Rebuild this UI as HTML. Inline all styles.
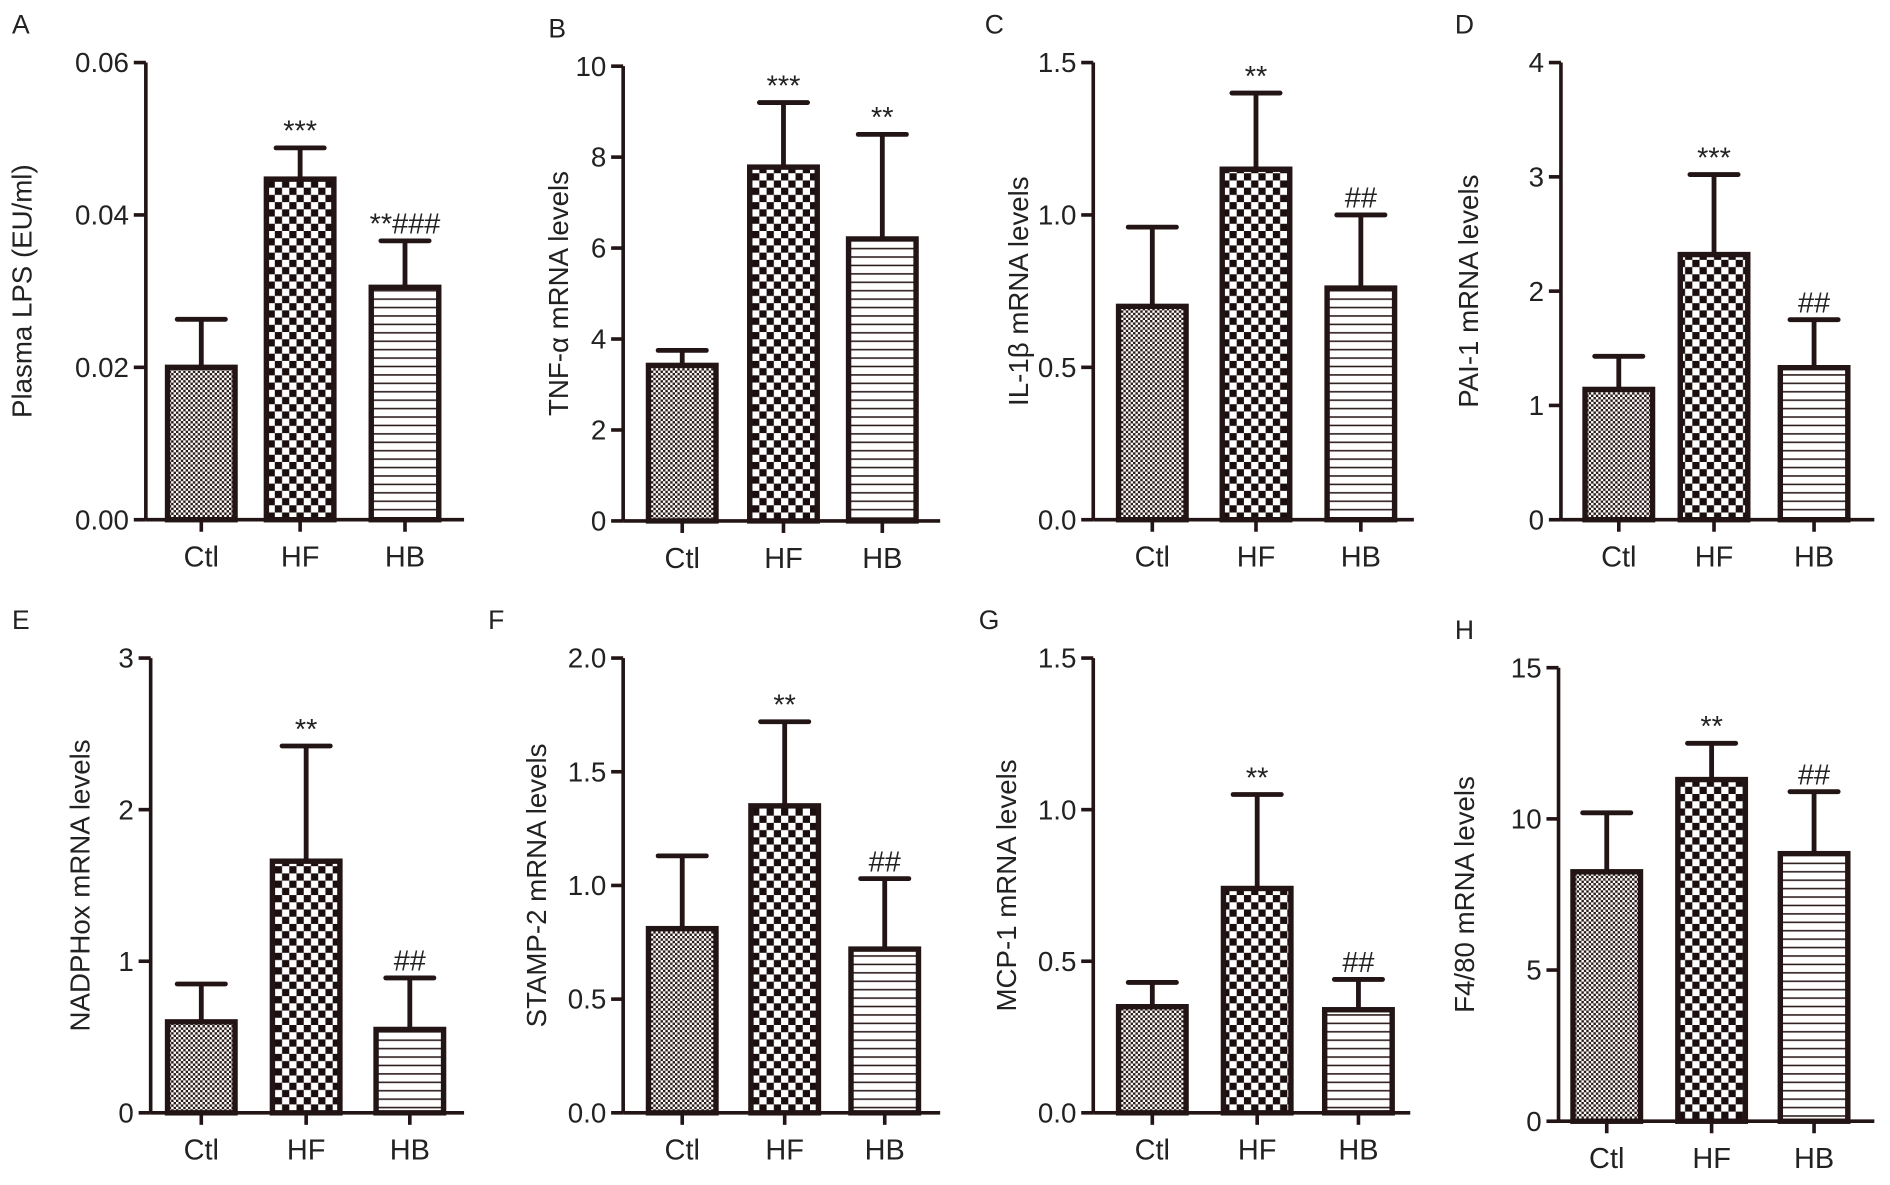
<!DOCTYPE html>
<html><head><meta charset="utf-8"><style>
html,body{margin:0;padding:0;background:#fff;}
svg{display:block;font-family:"Liberation Sans",Arial,sans-serif;}
</style></head><body>
<svg id="fig" width="1890" height="1185" viewBox="0 0 1568 985" preserveAspectRatio="none" xmlns="http://www.w3.org/2000/svg">
<defs>
<pattern id="pCtl" width="4" height="4" patternUnits="userSpaceOnUse"><rect width="4" height="4" fill="#fff"/><rect width="2" height="2" fill="#2a1a1a"/><rect x="2" y="2" width="2" height="2" fill="#2a1a1a"/></pattern>
<pattern id="pHF" width="12" height="12" patternUnits="userSpaceOnUse"><rect width="12" height="12" fill="#fff"/><rect x="0" y="0" width="6" height="6" fill="#1a0e0e"/><rect x="6" y="6" width="6" height="6" fill="#1a0e0e"/></pattern>
<pattern id="pHB" width="6" height="7" patternUnits="userSpaceOnUse"><rect width="6" height="7" fill="#fff"/><rect y="3" width="6" height="1.3" fill="#2a1a1a"/></pattern>
</defs>
</svg>
<script>
const categories = ["Ctl","HF","HB"];
const meansA = [0.020, 0.0447, 0.0305]; const errA = [0.0263, 0.0488, 0.0366]; const ticksA = ["0.00","0.02","0.04","0.06"];
const meansB = [3.42, 7.78, 6.2]; const errB = [3.75, 9.2, 8.5]; const ticksB = ["0","2","4","6","8","10"];
const meansC = [0.70, 1.15, 0.76]; const errC = [0.96, 1.40, 1.00]; const ticksC = ["0.0","0.5","1.0","1.5"];
const meansD = [1.14, 2.32, 1.33]; const errD = [1.43, 3.02, 1.75]; const ticksD = ["0","1","2","3","4"];
const meansE = [0.60, 1.66, 0.55]; const errE = [0.85, 2.42, 0.89]; const ticksE = ["0","1","2","3"];
const meansF = [0.81, 1.35, 0.72]; const errF = [1.13, 1.72, 1.03]; const ticksF = ["0.0","0.5","1.0","1.5","2.0"];
const meansG = [0.35, 0.74, 0.34]; const errG = [0.43, 1.05, 0.44]; const ticksG = ["0.0","0.5","1.0","1.5"];
const meansH = [8.25, 11.3, 8.85]; const errH = [10.2, 12.5, 10.9]; const ticksH = ["0","5","10","15"];
const sigA = ["","***","**###"], sigB = ["","***","**"], sigC = ["","**","##"], sigD = ["","***","##"];
const sigE = ["","**","##"], sigF = ["","**","##"], sigG = ["","**","##"], sigH = ["","**","##"];
const titles = ["Plasma LPS (EU/ml)","TNF-\u03b1 mRNA levels","IL-1\u03b2 mRNA levels","PAI-1 mRNA levels","NADPHox mRNA levels","STAMP-2 mRNA levels","MCP-1 mRNA levels","F4/80 mRNA levels"];
const letters = ["A","B","C","D","E","F","G","H"];

const layout = [
 {ax:121,top:52,base:432,right:385,cx:[167,249,336],lx:10,tx:20,max:0.06},
 {ax:517,top:55,base:433,right:780,cx:[566,650,732],lx:455,tx:465,max:10},
 {ax:907,top:52,base:432,right:1173,cx:[956,1042,1129],lx:817,tx:847,max:1.5},
 {ax:1295,top:52,base:432,right:1555,cx:[1343,1422,1505],lx:1207,tx:1220,max:4},
 {ax:125,top:547,base:925,right:385,cx:[167,254,340],lx:10,tx:68,max:3},
 {ax:517,top:547,base:925,right:780,cx:[566,651,734],lx:405,tx:447,max:2},
 {ax:907,top:547,base:925,right:1170,cx:[956,1043,1127],lx:812,tx:837,max:1.5},
 {ax:1293,top:555,base:932,right:1555,cx:[1333,1420,1505],lx:1207,tx:1217,max:15}
];
const means=[meansA,meansB,meansC,meansD,meansE,meansF,meansG,meansH];
const errs=[errA,errB,errC,errD,errE,errF,errG,errH];
const ticks=[ticksA,ticksB,ticksC,ticksD,ticksE,ticksF,ticksG,ticksH];
const sigs=[sigA,sigB,sigC,sigD,sigE,sigF,sigG,sigH];
const fills=["url(#pCtl)","url(#pHF)","url(#pHB)"];
const NS="http://www.w3.org/2000/svg";
const svg=document.getElementById("fig");
function mk(tag,attrs,parent){const e=document.createElementNS(NS,tag);for(const k in attrs)e.setAttribute(k,attrs[k]);(parent||svg).appendChild(e);return e;}
const ink="#231515";
layout.forEach((L,p)=>{
  const g=mk("g",{});
  
  
  const y=v=>L.base-(v/L.max)*(L.base-L.top);
  const lab=mk("text",{x:L.lx,y:L.top-24,"font-size":22,fill:"#222"},g);lab.textContent=letters[p];
  
  
  const midY=(L.top+L.base)/2;
  const tt=mk("text",{x:L.tx,y:midY,"font-size":23,fill:"#222","text-anchor":"middle",transform:`rotate(-90 ${L.tx} ${midY})`,"dominant-baseline":"middle"},g);tt.textContent=titles[p];
  
  
  categories.forEach((c,i)=>{
    const cx=L.cx[i], w=56, yt=y(means[p][i]), ye=y(errs[p][i]);
    const eb=mk("line",{x1:cx,x2:cx,y1:ye,y2:yt,stroke:ink,"stroke-width":4},g);
    
    
    const cap=mk("line",{x1:cx-20,x2:cx+20,y1:ye,y2:ye,stroke:ink,"stroke-width":4,"stroke-linecap":"round"},g);
    
    
    const r=mk("rect",{x:cx-w/2,y:yt,width:w,height:L.base-yt,fill:fills[i],stroke:ink,"stroke-width":4.5},g);
    
    
    if(sigs[p][i]){const s=mk("text",{x:cx,y:ye-6,"font-size":24,fill:"#222","text-anchor":"middle"},g);s.textContent=sigs[p][i];
      
      }
    const tk=mk("line",{x1:cx,x2:cx,y1:L.base,y2:L.base+10,stroke:ink,"stroke-width":3},g);
    
    
    const cl=mk("text",{x:cx,y:L.base+39,"font-size":24,fill:"#222","text-anchor":"middle"},g);cl.textContent=c;
    
    
  });
  const ya=mk("line",{x1:L.ax,x2:L.ax,y1:L.top,y2:L.base,stroke:ink,"stroke-width":3},g);
  
  
  const xa=mk("line",{x1:L.ax,x2:L.right,y1:L.base,y2:L.base,stroke:ink,"stroke-width":3},g);
  
  
  ticks[p].forEach((t,k)=>{
    const ty=y(parseFloat(t));
    const tl=mk("line",{x1:L.ax-10,x2:L.ax,y1:ty,y2:ty,stroke:ink,"stroke-width":3},g);
    
    
    const tx=mk("text",{x:L.ax-14,y:ty+8,"font-size":23,fill:"#222","text-anchor":"end"},g);tx.textContent=t;
    
    
  });
});
</script>
</body></html>
